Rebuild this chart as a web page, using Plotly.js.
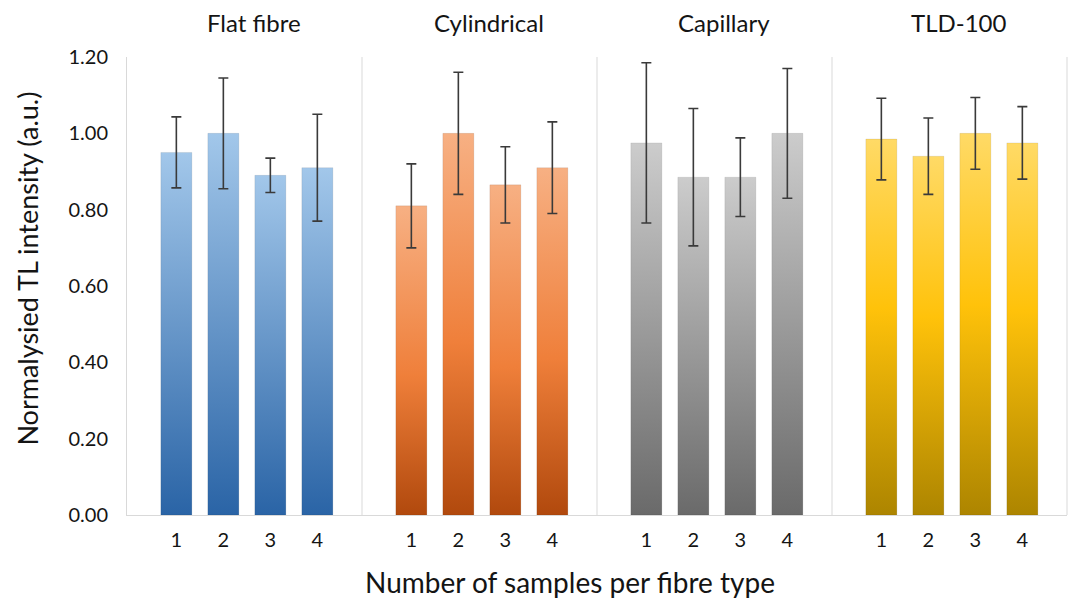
<!DOCTYPE html>
<html><head><meta charset="utf-8">
<script src="https://cdn.plot.ly/plotly-3.0.1.min.js"></script>
<style>html,body{margin:0;padding:0;background:#fff}</style>
</head><body>
<div id="chart" style="width:1072px;height:600px"></div>
<script>
const samples = ['1','2','3','4'];
const fibreTypes = ['Flat fibre','Cylindrical','Capillary','TLD-100'];
const flatFibre = [0.95, 1.00, 0.89, 0.91];
const flatFibreErr = [0.093, 0.145, 0.045, 0.14];
const cylindrical = [0.81, 1.00, 0.865, 0.91];
const cylindricalErr = [0.11, 0.16, 0.10, 0.12];
const capillary = [0.975, 0.885, 0.885, 1.00];
const capillaryErr = [0.21, 0.18, 0.103, 0.17];
const tld100 = [0.985, 0.94, 1.00, 0.975];
const tld100Err = [0.107, 0.10, 0.094, 0.095];
const yTickVals = [0, 0.2, 0.4, 0.6, 0.8, 1.0, 1.2];
const yTickText = ['0.00','0.20','0.40','0.60','0.80','1.00','1.20'];

const seriesValues = [flatFibre, cylindrical, capillary, tld100];
const seriesErrors = [flatFibreErr, cylindricalErr, capillaryErr, tld100Err];
const baseColors = ['#5b9bd5', '#ed7d31', '#a5a5a5', '#ffc000'];
const gradients = [
  [['0%','#a2c7ea'],['100%','#2a64a6']],
  [['0%','#f7b083'],['55%','#ef7f3a'],['100%','#b1490d']],
  [['0%','#cccccc'],['100%','#6a6a6a']],
  [['0%','#ffda66'],['45%','#ffc20a'],['100%','#ad8500']]
];
const FONT = 'Lato, Carlito, Calibri, sans-serif';
const TXT = '#141414';
const axNames = ['x','x2','x3','x4'];

const traces = seriesValues.map((vals, i) => ({
  type: 'bar',
  x: samples,
  y: vals,
  name: fibreTypes[i],
  xaxis: axNames[i],
  yaxis: 'y',
  marker: {color: baseColors[i], line: {width: 1, color: 'rgba(0,0,0,0.08)'}},
  error_y: {type: 'data', array: seriesErrors[i], visible: true, color: '#3a3a3a', thickness: 1.6, width: 5},
  hoverinfo: 'y'
}));

const layout = {
  width: 1072, height: 600,
  margin: {l: 127, r: 5, t: 57, b: 85},
  paper_bgcolor: '#fff', plot_bgcolor: '#fff',
  showlegend: false,
  bargap: 0.34,
  font: {family: FONT, color: TXT},
  yaxis: {
    range: [0, 1.2], tickvals: yTickVals, ticktext: yTickText,
    showgrid: false, zeroline: false, showline: true, linecolor: '#d9d9d9', linewidth: 1,
    ticks: '', ticklabelstandoff: 14, tickfont: {size: 20, family: FONT, color: TXT}
  },
  shapes: [0.25, 0.5, 0.75, 1.0].map(px => ({
    type: 'line', xref: 'paper', yref: 'paper', x0: px, x1: px, y0: 0, y1: 1,
    line: {color: '#d9d9d9', width: 1}
  })),
  annotations: fibreTypes.map((t, i) => ({
    text: t, xref: axNames[i] + ' domain', yref: 'paper', x: 0.5, y: 1, yshift: 35, xshift: 9,
    xanchor: 'center', yanchor: 'middle', showarrow: false,
    font: {size: 24, family: FONT, color: TXT}
  })).concat([
    {text: 'Number of samples per fibre type', xref: 'paper', yref: 'paper', x: 0.5, xshift: -27, y: 0, yshift: -67,
     xanchor: 'center', yanchor: 'middle', showarrow: false, font: {size: 28, family: FONT, color: TXT}},
    {text: 'Normalysied TL intensity (a.u.)', xref: 'paper', yref: 'paper', x: 0, xshift: -99, y: 0.538,
     xanchor: 'center', yanchor: 'middle', textangle: -90, showarrow: false, font: {size: 27, family: FONT, color: TXT}}
  ])
};
axNames.forEach((a, i) => {
  const key = a === 'x' ? 'xaxis' : 'xaxis' + a.slice(1);
  layout[key] = {
    domain: [i * 0.25, (i + 1) * 0.25],
    type: 'category', range: [-1.05, 3.95],
    showgrid: false, zeroline: false, showline: true, linecolor: '#d9d9d9', linewidth: 1,
    ticks: '', ticklabelstandoff: 7, tickfont: {size: 20, family: FONT, color: TXT},
    anchor: 'y', fixedrange: true
  };
});

Plotly.newPlot('chart', traces, layout, {displayModeBar: false, staticPlot: true}).then(gd => {
  const svg = gd.querySelector('.main-svg');
  const NS = 'http://www.w3.org/2000/svg';
  let defs = svg.querySelector('defs');
  if (!defs) { defs = document.createElementNS(NS, 'defs'); svg.insertBefore(defs, svg.firstChild); }
  gradients.forEach((stops, i) => {
    const lg = document.createElementNS(NS, 'linearGradient');
    lg.setAttribute('id', 'barGrad' + i);
    lg.setAttribute('x1', '0'); lg.setAttribute('y1', '0');
    lg.setAttribute('x2', '0'); lg.setAttribute('y2', '1');
    stops.forEach(s => {
      const st = document.createElementNS(NS, 'stop');
      st.setAttribute('offset', s[0]); st.setAttribute('stop-color', s[1]);
      lg.appendChild(st);
    });
    defs.appendChild(lg);
  });
  const traceGroups = gd.querySelectorAll('.barlayer .trace');
  traceGroups.forEach((g, i) => {
    g.querySelectorAll('.point path').forEach(p => { p.style.fill = 'url(#barGrad' + i + ')'; });
  });
});
</script>
</body></html>
